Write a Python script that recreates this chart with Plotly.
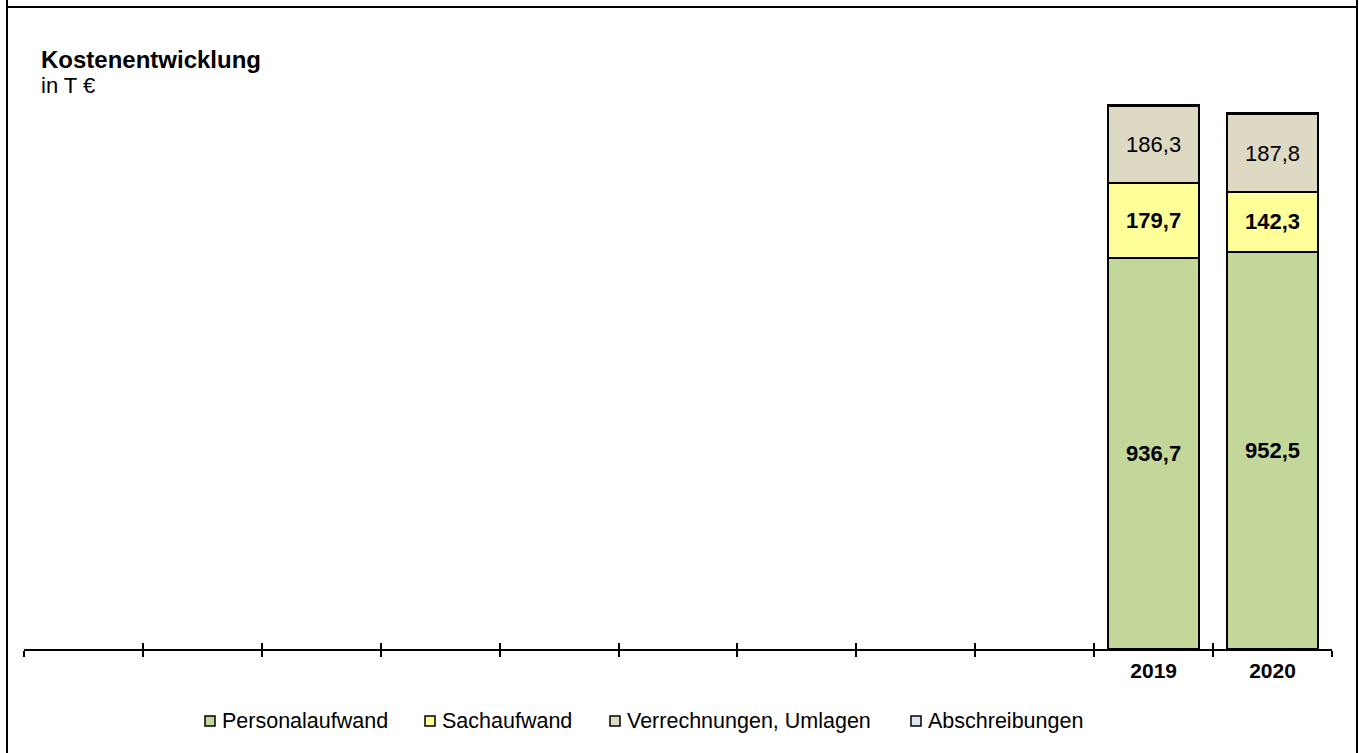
import plotly.graph_objects as go

# Category slots along the x axis (only the last two carry data)
slots = [" " * (i + 1) for i in range(9)] + ["2019", "2020"]
years = ["2019", "2020"]

# Cost components in T €
personal = [936.7, 952.5]
sach = [179.7, 142.3]
verrechnung = [186.3, 187.8]
abschreibung = [2.0, 2.5]

series_names = ["Personalaufwand", "Sachaufwand", "Verrechnungen, Umlagen", "Abschreibungen"]
series_values = [personal, sach, verrechnung, abschreibung]
series_colors = ["#C4D79B", "#FFFF99", "#DDD9C3", "#DCE6F2"]
label_templates = ["<b>%{y:.1f}</b>", "<b>%{y:.1f}</b>", "%{y:.1f}", ""]

W, H = 1359, 753
L, R, T, B = 24, 27, 65, 104
PW, PH = W - L - R, H - T - B


def px_x(x):
    return (x - L) / PW


def px_y(y):
    return (H - B - y) / PH


FONT = "Liberation Sans, Arial, sans-serif"

fig = go.Figure()
for name, vals, col, tpl in zip(series_names, series_values, series_colors, label_templates):
    fig.add_trace(go.Bar(
        x=years, y=vals, name=name, showlegend=False,
        marker=dict(color=col, line=dict(color="black", width=2)),
        texttemplate=tpl, textposition="inside", insidetextanchor="middle",
        textangle=0, textfont=dict(size=22, color="black", family=FONT),
        hoverinfo="skip",
    ))

# invisible carrier for the overlay axis that draws the upper halves of the ticks
fig.add_trace(go.Scatter(x=slots, y=[None] * len(slots), xaxis="x2",
                         showlegend=False, hoverinfo="skip"))

axis_common = dict(
    type="category", categoryorder="array", categoryarray=slots,
    range=[-0.5, len(slots) - 0.5], tickson="boundaries",
    tickcolor="black", tickwidth=2, ticklen=6, showgrid=False, zeroline=False,
)

fig.update_layout(
    width=W, height=H,
    margin=dict(l=L, r=R, t=T, b=B, pad=0),
    paper_bgcolor="white", plot_bgcolor="white",
    barmode="stack", bargap=0.235,
    separators=",.",
    font=dict(family=FONT, size=21, color="black"),
    xaxis=dict(**axis_common, ticks="outside", showline=True, linecolor="black",
               linewidth=2, tickfont=dict(size=21, family=FONT, color="black"),
               ticklabelstandoff=2, tickmode="array", tickvals=slots,
               ticktext=[f"<b>{s}</b>" if s.strip() else s for s in slots]),
    xaxis2=dict(**axis_common, ticks="inside", overlaying="x", anchor="y",
                showline=False, showticklabels=False),
    yaxis=dict(range=[0, 1400], visible=False, showgrid=False, zeroline=False),
    showlegend=False,
)

# legend row: swatch + label per series
legend_left = [205, 425, 610, 911]
legend_cy = 721
swatch = 10
for name, col, lx in zip(series_names, series_colors, legend_left):
    fig.add_shape(type="rect", xref="paper", yref="paper",
                  x0=px_x(lx), x1=px_x(lx + swatch),
                  y0=px_y(legend_cy + swatch / 2), y1=px_y(legend_cy - swatch / 2),
                  fillcolor=col, line=dict(color="black", width=1.5))
    fig.add_annotation(xref="paper", yref="paper", x=px_x(lx + swatch + 5),
                       y=px_y(legend_cy), xanchor="left", yanchor="middle",
                       showarrow=False, text=name,
                       font=dict(size=21.5, family=FONT, color="black"))

# title block
fig.add_annotation(xref="paper", yref="paper", x=px_x(39), y=px_y(59),
                   xanchor="left", yanchor="middle", showarrow=False,
                   text="<b>Kostenentwicklung</b>", font=dict(size=24, family=FONT))
fig.add_annotation(xref="paper", yref="paper", x=px_x(39), y=px_y(86),
                   xanchor="left", yanchor="middle", showarrow=False,
                   text="in T €", font=dict(size=22, family=FONT))

# surrounding frame
frame = dict(type="line", xref="paper", yref="paper", line=dict(color="black", width=2))
fig.add_shape(**frame, x0=px_x(7), x1=px_x(7), y0=px_y(0), y1=px_y(H))
fig.add_shape(**frame, x0=px_x(1357), x1=px_x(1357), y0=px_y(0), y1=px_y(H))
fig.add_shape(**frame, x0=px_x(7), x1=px_x(1357), y0=px_y(7), y1=px_y(7))

fig.write_html("out.html", config={"displayModeBar": False})
